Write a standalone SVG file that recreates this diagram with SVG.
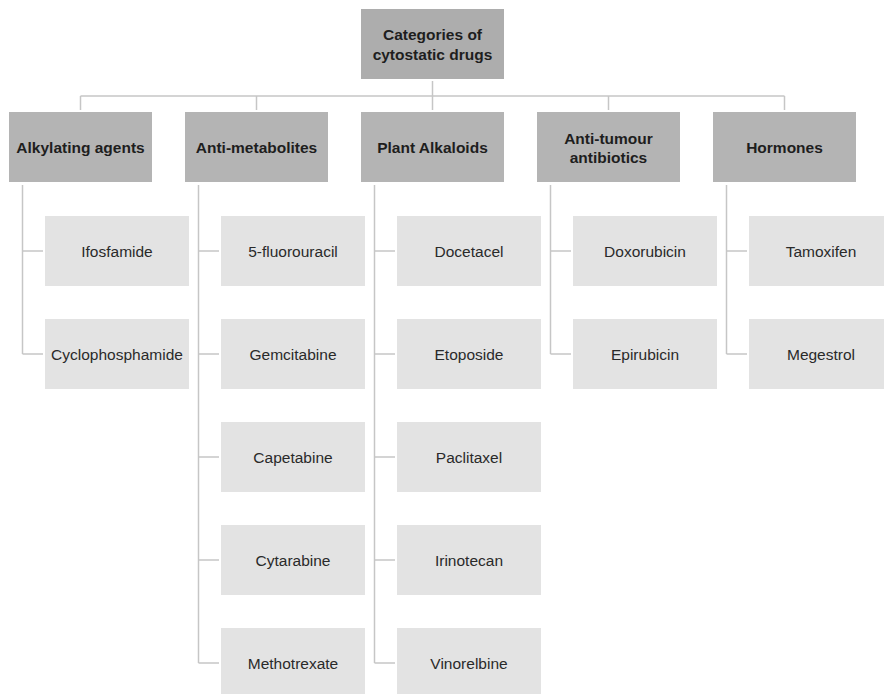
<svg xmlns="http://www.w3.org/2000/svg" width="884" height="694" viewBox="0 0 884 694">
<style>
.root{fill:#adadad}
.cat{fill:#b4b4b4}
.leaf{fill:#e3e3e3}
.b{font-family:"Liberation Sans",Arial,sans-serif;font-size:15.5px;font-weight:bold;fill:#1e1e1e;text-anchor:middle}
.r{font-family:"Liberation Sans",Arial,sans-serif;font-size:15.5px;fill:#2a2a2a;text-anchor:middle}
.c{stroke:#c6c6c6;stroke-width:1.5;fill:none}
</style>
<rect width="884" height="694" fill="#ffffff"/>
<g id="connectors" class="c">
<path d="M432.5 81V110M80.5 96H784.5M80.5 96V110M256.5 96V110M608.5 96V110M784.5 96V110"/>
<path d="M22.5 185V354M22.5 251H43M22.5 354H43"/>
<path d="M198.5 185V663M198.5 251H219M198.5 354H219M198.5 457H219M198.5 560H219M198.5 663H219"/>
<path d="M374.5 185V663M374.5 251H395M374.5 354H395M374.5 457H395M374.5 560H395M374.5 663H395"/>
<path d="M550.5 185V354M550.5 251H571M550.5 354H571"/>
<path d="M726.5 185V354M726.5 251H747M726.5 354H747"/>
</g>
<g id="root"><rect class="root" x="361" y="9" width="143" height="70"/><text class="b" x="432.5" y="39.5">Categories of</text><text class="b" x="432.5" y="59.5">cytostatic drugs</text></g>
<g id="cat-alkylating"><rect class="cat" x="9" y="112" width="143" height="70"/><text class="b" x="80.5" y="153">Alkylating agents</text></g>
<g id="cat-antimetabolites"><rect class="cat" x="185" y="112" width="143" height="70"/><text class="b" x="256.5" y="153">Anti-metabolites</text></g>
<g id="cat-plant"><rect class="cat" x="361" y="112" width="143" height="70"/><text class="b" x="432.5" y="153">Plant Alkaloids</text></g>
<g id="cat-antitumour"><rect class="cat" x="537" y="112" width="143" height="70"/><text class="b" x="608.5" y="143.5">Anti-tumour</text><text class="b" x="608.5" y="163">antibiotics</text></g>
<g id="cat-hormones"><rect class="cat" x="713" y="112" width="143" height="70"/><text class="b" x="784.5" y="153">Hormones</text></g>
<g id="ifosfamide"><rect class="leaf" x="45" y="216" width="144" height="70"/><text class="r" x="117" y="256.5">Ifosfamide</text></g>
<g id="cyclophosphamide"><rect class="leaf" x="45" y="319" width="144" height="70"/><text class="r" x="117" y="359.5">Cyclophosphamide</text></g>
<g id="fluorouracil"><rect class="leaf" x="221" y="216" width="144" height="70"/><text class="r" x="293" y="256.5">5-fluorouracil</text></g>
<g id="gemcitabine"><rect class="leaf" x="221" y="319" width="144" height="70"/><text class="r" x="293" y="359.5">Gemcitabine</text></g>
<g id="capetabine"><rect class="leaf" x="221" y="422" width="144" height="70"/><text class="r" x="293" y="462.5">Capetabine</text></g>
<g id="cytarabine"><rect class="leaf" x="221" y="525" width="144" height="70"/><text class="r" x="293" y="565.5">Cytarabine</text></g>
<g id="methotrexate"><rect class="leaf" x="221" y="628" width="144" height="70"/><text class="r" x="293" y="668.5">Methotrexate</text></g>
<g id="docetacel"><rect class="leaf" x="397" y="216" width="144" height="70"/><text class="r" x="469" y="256.5">Docetacel</text></g>
<g id="etoposide"><rect class="leaf" x="397" y="319" width="144" height="70"/><text class="r" x="469" y="359.5">Etoposide</text></g>
<g id="paclitaxel"><rect class="leaf" x="397" y="422" width="144" height="70"/><text class="r" x="469" y="462.5">Paclitaxel</text></g>
<g id="irinotecan"><rect class="leaf" x="397" y="525" width="144" height="70"/><text class="r" x="469" y="565.5">Irinotecan</text></g>
<g id="vinorelbine"><rect class="leaf" x="397" y="628" width="144" height="70"/><text class="r" x="469" y="668.5">Vinorelbine</text></g>
<g id="doxorubicin"><rect class="leaf" x="573" y="216" width="144" height="70"/><text class="r" x="645" y="256.5">Doxorubicin</text></g>
<g id="epirubicin"><rect class="leaf" x="573" y="319" width="144" height="70"/><text class="r" x="645" y="359.5">Epirubicin</text></g>
<g id="tamoxifen"><rect class="leaf" x="749" y="216" width="144" height="70"/><text class="r" x="821" y="256.5">Tamoxifen</text></g>
<g id="megestrol"><rect class="leaf" x="749" y="319" width="144" height="70"/><text class="r" x="821" y="359.5">Megestrol</text></g>
</svg>
